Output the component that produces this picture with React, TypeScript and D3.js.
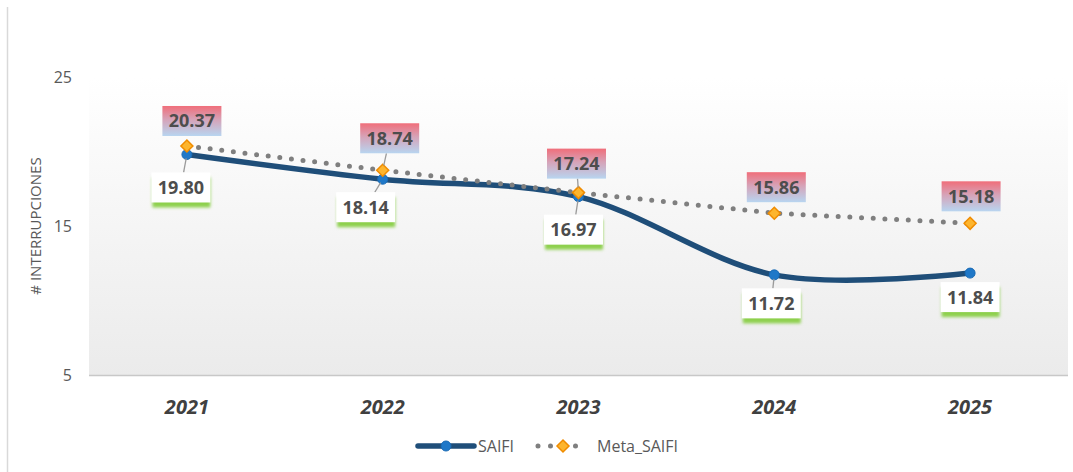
import React from 'react';
import * as d3 from 'd3';

const years = ['2021', '2022', '2023', '2024', '2025'];
const saifi = [19.8, 18.14, 16.97, 11.72, 11.84];
const metaSaifi = [20.37, 18.74, 17.24, 15.86, 15.18];
const yTicks = [5, 15, 25];
const seriesNames = ['SAIFI', 'Meta_SAIFI'];

// label placement relative to the point: [dx, dy, showLeader]
const metaLabelPos: [number, number, boolean][] = [
  [5, -25, false], [7, -32, true], [-2, -29, true], [2, -26, false], [1, -27, false],
];
const saifiLabelPos: [number, number, boolean][] = [
  [-6, 33, true], [-17, 28, true], [-5, 33, true], [-3, 28.5, true], [0, 24, false],
];

const W = 1073, H = 472;
const PL = 89, PR = 1068, PT = 77, PB = 375;
const FONT = "'Open Sans', 'Noto Sans', sans-serif";
const BW = 59, BH = 30;

function leader(px: number, py: number, cx: number, cy: number, r: number) {
  // segment from box edge to the marker edge
  const dx = px - cx, dy = py - cy;
  const tx = dx !== 0 ? (BW / 2) / Math.abs(dx) : Infinity;
  const ty = dy !== 0 ? (BH / 2) / Math.abs(dy) : Infinity;
  const t = Math.min(tx, ty);
  const x1 = cx + dx * t, y1 = cy + dy * t;
  const len = Math.hypot(dx, dy);
  const x2 = px - (dx / len) * r, y2 = py - (dy / len) * r;
  return { x1, y1, x2, y2 };
}

export default function App() {
  const x = d3.scaleBand<string>().domain(years).range([PL, PR]);
  const cx = (d: string) => (x(d) as number) + x.bandwidth() / 2;
  const y = d3.scaleLinear().domain([5, 25]).range([PB, PT]);

  const saifiPts: [number, number][] = years.map((d, i) => [cx(d), y(saifi[i])]);
  const metaPts: [number, number][] = years.map((d, i) => [cx(d), y(metaSaifi[i])]);

  const smooth = d3.line().curve(d3.curveCardinal.tension(0));
  const straight = d3.line();

  const diamond = (px: number, py: number, s: number) =>
    `M${px},${py - s}L${px + s},${py}L${px},${py + s}L${px - s},${py}Z`;

  return (
    <svg width={W} height={H} style={{ position: 'absolute', left: 0, top: 0, background: '#fff' }}
      fontFamily={FONT}>
      <defs>
        <linearGradient id="plotBg" x1="0" y1="0" x2="0" y2="1">
          <stop offset="0%" stopColor="#ffffff" />
          <stop offset="100%" stopColor="#ebebeb" />
        </linearGradient>
        <linearGradient id="metaBox" x1="0" y1="0" x2="0" y2="1">
          <stop offset="0%" stopColor="#f06e7a" />
          <stop offset="45%" stopColor="#d6a3b8" />
          <stop offset="100%" stopColor="#b8d5f0" />
        </linearGradient>
        <filter id="gblur" x="-20%" y="-50%" width="140%" height="200%">
          <feGaussianBlur stdDeviation="1.4" />
        </filter>
      </defs>

      <rect x={0} y={0} width={W} height={H} fill="#fff" />
      <line x1={7.5} y1={7} x2={7.5} y2={H} stroke="#d9d9d9" strokeWidth={1.5} />

      {/* plot area */}
      <rect x={PL} y={PT} width={PR - PL} height={PB - PT} fill="url(#plotBg)" />
      <line x1={PL} x2={PR} y1={PB + 0.5} y2={PB + 0.5} stroke="#c8c8c8" strokeWidth={1.5} />

      {/* y ticks */}
      {yTicks.map(t => (
        <text key={t} x={72} y={y(t) + 6} textAnchor="end" fontSize={16} fill="#595959">{t}</text>
      ))}
      <text transform={`translate(41,${(PT + PB) / 2}) rotate(-90)`} textAnchor="middle"
        fontSize={15} fill="#595959">{'# INTERRUPCIONES'}</text>

      {/* x labels */}
      {years.map(d => (
        <text key={d} x={cx(d)} y={414} textAnchor="middle" fontSize={20} fontWeight="bold"
          fontStyle="italic" fill="#404040">{d}</text>
      ))}

      {/* SAIFI line */}
      <path d={smooth(saifiPts) || ''} fill="none" stroke="#1f4e79" strokeWidth={5.5} />
      {saifiPts.map((p, i) => (
        <circle key={i} cx={p[0]} cy={p[1]} r={5} fill="#1f78c8" stroke="#1a6bb5" strokeWidth={1} />
      ))}

      {/* Meta line */}
      <path d={straight(metaPts) || ''} fill="none" stroke="#7f7f7f" strokeWidth={5}
        strokeDasharray="0 11.7" strokeLinecap="round" />
      {metaPts.map((p, i) => (
        <path key={i} d={diamond(p[0], p[1], 6)} fill="#fdb52e" stroke="#f08c00" strokeWidth={1.5} />
      ))}

      {/* leader lines */}
      {metaPts.map((p, i) => {
        const [dx, dy, show] = metaLabelPos[i];
        if (!show) return null;
        const l = leader(p[0], p[1], p[0] + dx, p[1] + dy, 5);
        return <line key={'ml' + i} {...l} stroke="#9a9a9a" strokeWidth={1.3} />;
      })}
      {saifiPts.map((p, i) => {
        const [dx, dy, show] = saifiLabelPos[i];
        if (!show) return null;
        const l = leader(p[0], p[1], p[0] + dx, p[1] + dy, 4);
        return <line key={'sl' + i} {...l} stroke="#9a9a9a" strokeWidth={1.3} />;
      })}

      {/* Meta labels */}
      {metaPts.map((p, i) => {
        const [dx, dy] = metaLabelPos[i];
        const bx = p[0] + dx, by = p[1] + dy;
        return (
          <g key={'mlab' + i}>
            <rect x={bx - BW / 2} y={by - BH / 2} width={BW} height={BH} fill="url(#metaBox)" />
            <text x={bx} y={by} dy="0.36em" textAnchor="middle" fontSize={18} fontWeight="bold"
              fill="#4d4d4d">{metaSaifi[i].toFixed(2)}</text>
          </g>
        );
      })}

      {/* SAIFI labels */}
      {saifiPts.map((p, i) => {
        const [dx, dy] = saifiLabelPos[i];
        const bx = p[0] + dx, by = p[1] + dy;
        return (
          <g key={'slab' + i}>
            <rect x={bx - BW / 2 + 1} y={by - BH / 2 + 5} width={BW - 1} height={BH}
              fill="#8ed04e" filter="url(#gblur)" />
            <rect x={bx - BW / 2} y={by - BH / 2} width={BW} height={BH} fill="#ffffff" />
            <text x={bx} y={by} dy="0.36em" textAnchor="middle" fontSize={18} fontWeight="bold"
              fill="#4d4d4d">{saifi[i].toFixed(2)}</text>
          </g>
        );
      })}

      {/* legend */}
      <g>
        <line x1={418} x2={474} y1={446} y2={446} stroke="#1f4e79" strokeWidth={5.5} strokeLinecap="round" />
        <circle cx={446} cy={446} r={5} fill="#1f78c8" stroke="#1a6bb5" strokeWidth={1} />
        <text x={478} y={452} fontSize={16} fill="#595959">{seriesNames[0]}</text>
        <line x1={538} x2={588} y1={446} y2={446} stroke="#7f7f7f" strokeWidth={5}
          strokeDasharray="0 12.5" strokeLinecap="round" />
        <path d={diamond(563, 446, 6)} fill="#fdb52e" stroke="#f08c00" strokeWidth={1.5} />
        <text x={597} y={452} fontSize={16} fill="#595959">{seriesNames[1]}</text>
      </g>
    </svg>
  );
}
